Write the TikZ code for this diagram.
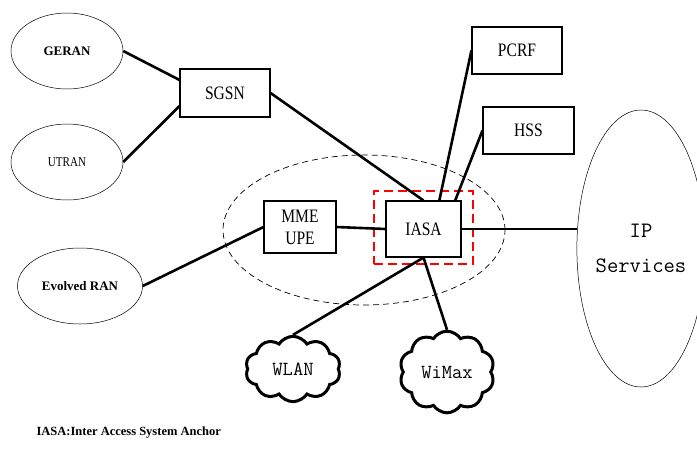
\documentclass[tikz,border=0pt]{standalone}
\usepackage{fontspec}
\setmainfont{Liberation Serif}
\newfontfamily\boxfont[FakeStretch=0.82]{Liberation Serif}
\usetikzlibrary{shapes.geometric,shapes.symbols}

\begin{document}
\begin{tikzpicture}[x=1pt, y=-1pt,
    netbox/.style={draw, line width=1.1pt, inner sep=0pt, align=center,
        font=\boxfont\fontsize{19}{22}\selectfont},
    radio/.style={draw, ellipse, line width=0.5pt, inner sep=0pt,
        minimum width=112pt, minimum height=76pt},
    wireless/.style={draw, cloud, cloud puffs=10, cloud puff arc=115,
        line width=3pt, inner sep=0pt, minimum width=95pt, minimum height=58pt,
        font=\ttfamily\fontsize{20}{24}\selectfont},
    link/.style={line width=2.6pt}]

    \definecolor{anchorRed}{HTML}{FF0000}

    \useasboundingbox (0,0) rectangle (697,453);

    % Radio access networks
    \node[radio, font=\bfseries\fontsize{13}{15}\selectfont] (geran) at (67,51) {GERAN};
    \node[radio, font=\boxfont\fontsize{13.5}{15}\selectfont] (utran) at (67,162) {UTRAN};
    \node[radio, minimum width=125pt, font=\bfseries\fontsize{13}{15}\selectfont] (eran) at (80,286) {Evolved RAN};

    % Evolved core (dashed)
    \node[draw, dashed, ellipse, line width=0.7pt, dash pattern=on 6pt off 4pt,
        minimum width=282pt, minimum height=150pt] (epc) at (364,230) {};

    % Network boxes
    \node[netbox, minimum width=90pt, minimum height=48pt] (sgsn) at (225,93) {SGSN};
    \node[netbox, minimum width=72pt, minimum height=52pt] (mme) at (300,227) {MME\\UPE};
    \node[netbox, minimum width=75pt, minimum height=56pt] (iasa) at (423.5,229) {IASA};
    \node[netbox, minimum width=90pt, minimum height=47pt] (pcrf) at (517,50.5) {PCRF};
    \node[netbox, minimum width=91pt, minimum height=47pt] (hss) at (528.5,130.5) {HSS};

    % Anchor highlight
    \node[draw=anchorRed, line width=2.4pt, dash pattern=on 9pt off 5pt, inner sep=0pt,
        minimum width=99pt, minimum height=73pt] (anchor) at (423.5,227.5) {};

    % IP services
    \node[draw, ellipse, line width=0.5pt, inner sep=0pt, align=center,
        minimum width=118pt, minimum height=277pt,
        font=\ttfamily\fontsize{22}{35}\selectfont] (ip) at (641,248.5) {IP\\Services};

    % Wireless clouds
    \node[wireless] (wlan) at (293,369) {WLAN};
    \node[wireless] (wimax) at (447,372) {WiMax};

    % Links
    \draw[link] (geran.east) -- (sgsn.164);
    \draw[link] (utran.east) -- (sgsn.196);
    \draw[link] (sgsn.east) -- (iasa.north);
    \draw[link] (pcrf.west) -- (iasa.61);
    \draw[link] (hss.west) -- (iasa.42);
    \draw[link] (eran.east) -- (mme.west);
    \draw[link] (mme.east) -- (iasa.west);
    \draw[link] (iasa.east) -- (iasa.east -| ip.west);
    \draw[link] (iasa.south) -- (wlan.north);
    \draw[link] (iasa.south) -- (wimax.north);

    % Legend
    \node[anchor=west, font=\bfseries\fontsize{12.5}{14}\selectfont] (note) at (33,433) {IASA:Inter Access System Anchor};

\end{tikzpicture}
\end{document}
